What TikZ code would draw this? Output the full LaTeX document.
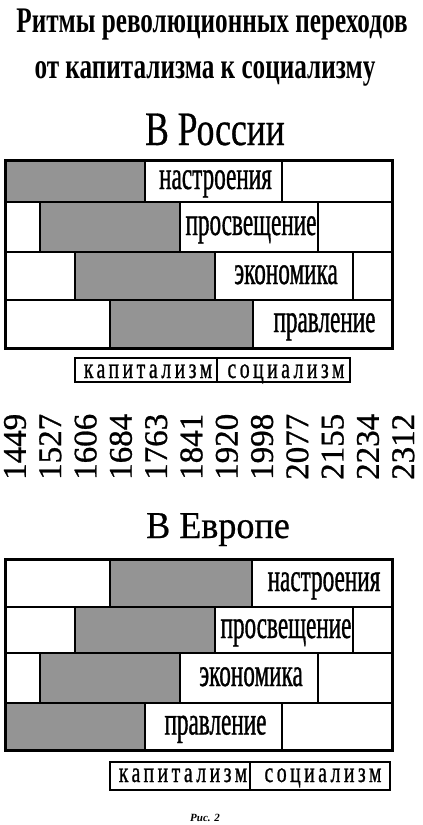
\documentclass[tikz,border=0pt]{standalone}
\usepackage{fontspec}
\setmainfont{Liberation Serif}
\newfontfamily\titlefont[FakeStretch=0.7]{Liberation Serif}
\newfontfamily\headfont[FakeStretch=0.74,FakeBold=0.6]{Liberation Serif}
\newfontfamily\eurofont[FakeStretch=0.95,FakeBold=0.6]{Liberation Serif}
\newfontfamily\cellfont[FakeStretch=0.58,FakeBold=0.8]{Liberation Serif}
\newfontfamily\spacefont[FakeStretch=0.68,FakeBold=0.8,LetterSpace=12]{Liberation Serif}
\newfontfamily\yearfont[FakeBold=0.8]{Liberation Serif}

\begin{document}
\begin{tikzpicture}[x=1pt, y=-1pt,
	every node/.style={inner sep=0pt},
	frame/.style={line width=2.4pt},
	shade/.style={fill=black!42},
	lbl/.style={font=\cellfont\fontsize{40}{40}\selectfont, anchor=base},
	era/.style={font=\spacefont\fontsize{29}{29}\selectfont, anchor=base},
	yr/.style={font=\yearfont\fontsize{33}{33}\selectfont, rotate=90, anchor=west}]
	\useasboundingbox (0,0) rectangle (423,825);
	% titles
	\node[font=\titlefont\bfseries\fontsize{36}{36}\selectfont, anchor=base] (title1) at (212,32) {Ритмы революционных переходов};
	\node[font=\titlefont\bfseries\fontsize{36}{36}\selectfont, anchor=base] (title2) at (205,78) {от капитализма к социализму};
	\node[font=\headfont\fontsize{48}{48}\selectfont, anchor=base] (ru-head) at (215,145) {В России};
	% Russia
	\foreach \top/\bot/\ga/\gb/\tb/\word/\nm in {160/202/5/145/282/настроения/mood, 202/252/40/180/318/просвещение/enl, 252/300/75/215/353/экономика/econ, 300/348/110/253/392/правление/gov} {
		\draw[frame] (5,\top) rectangle (392,\bot);
		\filldraw[frame, shade] (\ga,\top) rectangle (\gb,\bot);
		\draw[frame] (\gb,\top) rectangle (\tb,\bot);
		\node[lbl] (ru-\nm) at ({(\gb+\tb)/2+2},{(\top+\bot)/2+8}) {\word};
	}
	\draw[line width=3pt] (5,160) rectangle (392,348);
	\draw[frame] (75,358) rectangle (350,382);
	\draw[frame] (217,358) -- (217,382);
	\node[era] (ru-cap) at (148,378) {капитализм};
	\node[era] (ru-soc) at (286,378) {социализм};
	% years
	\foreach \yr [count=\i from 0] in {1449,1527,1606,1684,1763,1841,1920,1998,2077,2155,2234,2312}
		\node[yr] (y\yr) at ({15+35.3*\i},480) {\yr};
	% Europe
	\node[font=\eurofont\fontsize{38}{38}\selectfont, anchor=base] (eu-head) at (218,538) {В Европе};
	\foreach \top/\bot/\ga/\gb/\tb/\word/\nm in {559/607/110/252/392/настроения/mood, 607/653/75/215/353/просвещение/enl, 653/703/40/180/318/экономика/econ, 703/750/5/145/282/правление/gov} {
		\draw[frame] (5,\top) rectangle (392,\bot);
		\filldraw[frame, shade] (\ga,\top) rectangle (\gb,\bot);
		\draw[frame] (\gb,\top) rectangle (\tb,\bot);
		\node[lbl] (eu-\nm) at ({(\gb+\tb)/2+2},{(\top+\bot)/2+8}) {\word};
	}
	\draw[line width=3pt] (5,559) rectangle (392,750);
	\draw[frame] (110,762) rectangle (390,790);
	\draw[frame] (250,762) -- (250,790);
	\node[era] (eu-cap) at (183,782) {капитализм};
	\node[era] (eu-soc) at (323,782) {социализм};
	\node[font=\fontsize{11}{11}\selectfont\bfseries\itshape, anchor=base] (fig) at (205,821) {Рис. 2};
\end{tikzpicture}
\end{document}
